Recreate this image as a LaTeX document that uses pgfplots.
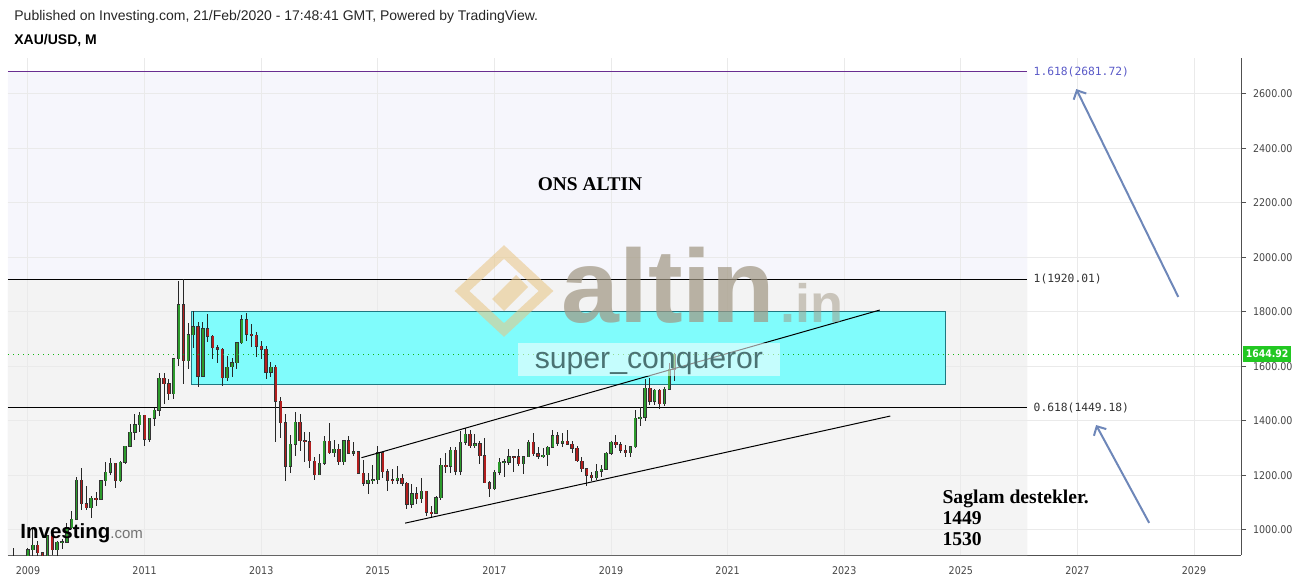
\documentclass[border=0pt]{standalone}
\usepackage{pgfplots}
\pgfplotsset{compat=1.18}
\usepackage{pgfplotstable}
\usepackage{fontspec}
\setmainfont{Liberation Sans}
\newfontfamily\serifb{Liberation Serif}
\newfontfamily\tickfont{DejaVu Sans Condensed}
\newfontfamily\fibfont{DejaVu Sans Mono}
\usetikzlibrary{arrows.meta}

\definecolor{candleG}{RGB}{44,155,44}
\definecolor{candleR}{RGB}{178,30,30}
\definecolor{fibTop}{RGB}{246,246,252}
\definecolor{fibMid}{RGB}{243,243,243}
\definecolor{fibLow}{RGB}{244,244,244}
\definecolor{fibPurple}{RGB}{105,45,145}
\definecolor{fibLabel}{RGB}{90,90,200}
\definecolor{boxCyan}{RGB}{128,252,252}
\definecolor{boxEdge}{RGB}{30,120,130}
\definecolor{arrowBlue}{RGB}{110,135,185}
\definecolor{dotGreen}{RGB}{20,180,20}
\definecolor{tagGreen}{RGB}{34,200,34}
\definecolor{axisGray}{RGB}{80,80,80}
\definecolor{tickGray}{RGB}{70,70,70}
\definecolor{gridc}{RGB}{234,234,234}
\definecolor{wmGray}{RGB}{160,150,130}
\definecolor{wmGold}{RGB}{232,196,130}
\definecolor{scText}{RGB}{75,115,115}

% monthly XAU/USD candles, m = months since Jan 2009
\pgfplotstableread{
m o h l c
-2 719 831 705 816
-1 816 889 752 869
0 869 935 800 927
1 927 1006 889 943
4 883 981 871 979
6 927 960 904 954
7 954 966 930 955
8 955 1025 954 1008
9 1008 1070 1003 1040
10 1040 1195 1040 1182
13 1082 1126 1045 1117
15 1113 1184 1113 1180
16 1180 1249 1161 1212
17 1212 1265 1200 1244
19 1181 1252 1177 1248
20 1248 1307 1241 1307
21 1307 1388 1306 1358
22 1358 1424 1330 1386
23 1386 1431 1361 1421
25 1332 1411 1324 1409
26 1409 1447 1381 1439
27 1439 1576 1417 1556
30 1500 1632 1480 1628
31 1628 1913 1602 1826
33 1620 1758 1592 1716
34 1716 1803 1668 1746
36 1564 1764 1561 1738
41 1558 1640 1547 1598
42 1598 1631 1562 1614
43 1614 1691 1592 1687
44 1687 1790 1684 1772
50 1578 1617 1562 1598
54 1234 1348 1208 1314
55 1314 1434 1271 1396
60 1202 1280 1202 1244
61 1244 1345 1238 1326
63 1284 1331 1268 1296
65 1250 1326 1240 1327
67 1282 1323 1273 1287
70 1172 1209 1131 1182
71 1182 1239 1170 1184
72 1184 1307 1167 1283
76 1183 1233 1169 1190
79 1095 1170 1080 1133
81 1115 1191 1098 1142
84 1061 1123 1061 1118
85 1118 1263 1110 1238
87 1233 1304 1209 1293
89 1215 1362 1200 1321
90 1321 1375 1310 1351
92 1309 1353 1302 1316
96 1151 1220 1145 1211
97 1211 1264 1200 1249
98 1249 1261 1195 1250
99 1249 1296 1240 1268
102 1242 1270 1205 1269
103 1269 1331 1267 1322
106 1271 1299 1264 1275
107 1275 1309 1236 1303
108 1303 1366 1302 1345
110 1318 1356 1303 1325
117 1192 1243 1183 1215
118 1215 1237 1196 1222
119 1222 1285 1221 1282
120 1282 1326 1276 1321
124 1284 1306 1266 1305
125 1305 1439 1301 1409
126 1409 1452 1381 1413
127 1413 1555 1400 1520
129 1472 1517 1459 1513
131 1464 1525 1454 1517
132 1517 1611 1517 1589
133 1589 1649 1548 1645
}\up
\pgfplotstableread{
m o h l c
-3 884 932 681 718
2 943 960 866 916
3 916 918 865 883
5 979 990 908 927
11 1182 1227 1075 1096
12 1096 1161 1074 1082
14 1117 1140 1088 1113
18 1244 1245 1155 1181
24 1421 1423 1309 1332
28 1556 1577 1462 1536
29 1536 1553 1478 1500
32 1826 1921 1534 1620
35 1746 1764 1523 1564
37 1738 1791 1688 1710
38 1710 1714 1627 1669
39 1669 1677 1612 1664
40 1664 1668 1527 1558
45 1772 1796 1692 1719
46 1719 1755 1672 1714
47 1714 1725 1635 1675
48 1675 1694 1626 1663
49 1663 1675 1555 1578
51 1598 1605 1321 1472
52 1472 1487 1338 1393
53 1393 1424 1180 1234
56 1396 1424 1290 1327
57 1327 1361 1251 1323
58 1323 1361 1227 1253
59 1253 1267 1182 1202
62 1326 1392 1277 1284
64 1296 1315 1240 1250
66 1327 1345 1281 1282
68 1287 1288 1206 1208
69 1208 1255 1161 1172
73 1283 1285 1190 1213
74 1213 1224 1142 1183
75 1184 1225 1170 1183
77 1190 1205 1162 1172
78 1172 1175 1077 1095
80 1133 1157 1097 1115
82 1142 1143 1052 1065
83 1065 1088 1046 1061
86 1238 1283 1208 1233
88 1293 1303 1200 1215
91 1351 1367 1300 1309
93 1316 1326 1241 1272
94 1272 1338 1171 1173
95 1173 1180 1122 1151
100 1268 1270 1214 1267
101 1268 1296 1236 1242
104 1322 1357 1271 1280
105 1280 1306 1260 1271
109 1345 1361 1307 1318
111 1325 1366 1310 1315
112 1315 1326 1282 1299
113 1299 1309 1250 1253
114 1253 1266 1211 1224
115 1224 1225 1160 1201
116 1201 1214 1180 1192
121 1321 1347 1302 1313
122 1313 1324 1281 1292
123 1292 1310 1266 1284
128 1520 1557 1459 1472
130 1513 1516 1445 1464
}\down

\pgfplotsset{
  wick/.style={forget plot, no markers, draw opacity=0,
    error bars/.cd, y dir=both, y explicit, error mark=none,
    error bar style={draw=black!85, draw opacity=1, line width=0.5pt, solid}},
  bodyedge/.style={forget plot, no markers, draw opacity=0,
    error bars/.cd, y dir=both, y explicit, error mark=none,
    error bar style={draw=black!80, draw opacity=1, line width=1.7pt, solid}},
  bodyfill/.style={forget plot, no markers, draw opacity=0,
    error bars/.cd, y dir=both, y explicit, error mark=none,
    error bar style={draw=#1, draw opacity=1, line width=0.9pt, solid}},
}

\begin{document}
\begin{tikzpicture}
\path[use as bounding box] (0,0) rectangle (649.5pt,289.5pt);

\node[anchor=base west, inner sep=0, text=black!85] at (7pt,279pt)
  {\fontsize{7}{8}\selectfont Published on Investing.com, 21/Feb/2020 - 17:48:41 GMT, Powered by TradingView.};
\node[anchor=base west, inner sep=0, text=black] at (7pt,267pt)
  {\fontsize{7}{8}\selectfont\bfseries XAU/USD, M};

\begin{axis}[
  at={(4pt,12pt)}, anchor=south west, scale only axis,
  width=616.5pt, height=248.5pt,
  xmin=-4.116, xmax=249.67, ymin=908, ymax=2732,
  axis x line*=bottom, axis y line*=right,
  axis line style={draw=axisGray, line width=0.5pt},
  xtick={0,24,48,72,96,120,144,168,192,216,240},
  xticklabels={2009,2011,2013,2015,2017,2019,2021,2023,2025,2027,2029},
  ytick={1000,1200,1400,1600,1800,2000,2200,2400,2600},
  yticklabels={1000.00,1200.00,1400.00,1600.00,1800.00,2000.00,2200.00,2400.00,2600.00},
  ticklabel style={font=\tickfont\fontsize{5.3}{6}\selectfont, text=tickGray},
  xtick style={draw=none}, ytick style={draw=axisGray, line width=0.5pt},
  tick align=outside, major tick length=2.5pt,
]
% Fibonacci background bands
\addplot[fill=fibTop, draw=none, forget plot]
  coordinates {(-4.116,1920.01) (205.68,1920.01) (205.68,2681.72) (-4.116,2681.72)} \closedcycle;
\addplot[fill=fibMid, draw=none, forget plot]
  coordinates {(-4.116,1449.18) (205.68,1449.18) (205.68,1920.01) (-4.116,1920.01)} \closedcycle;
\addplot[fill=fibLow, draw=none, forget plot]
  coordinates {(-4.116,908) (205.68,908) (205.68,1449.18) (-4.116,1449.18)} \closedcycle;

% grid
\addplot[gridc, line width=0.5pt, forget plot] coordinates {(0,908) (0,2732)};
\addplot[gridc, line width=0.5pt, forget plot] coordinates {(24,908) (24,2732)};
\addplot[gridc, line width=0.5pt, forget plot] coordinates {(48,908) (48,2732)};
\addplot[gridc, line width=0.5pt, forget plot] coordinates {(72,908) (72,2732)};
\addplot[gridc, line width=0.5pt, forget plot] coordinates {(96,908) (96,2732)};
\addplot[gridc, line width=0.5pt, forget plot] coordinates {(120,908) (120,2732)};
\addplot[gridc, line width=0.5pt, forget plot] coordinates {(144,908) (144,2732)};
\addplot[gridc, line width=0.5pt, forget plot] coordinates {(168,908) (168,2732)};
\addplot[gridc, line width=0.5pt, forget plot] coordinates {(192,908) (192,2732)};
\addplot[gridc, line width=0.5pt, forget plot] coordinates {(216,908) (216,2732)};
\addplot[gridc, line width=0.5pt, forget plot] coordinates {(240,908) (240,2732)};
\addplot[gridc, line width=0.5pt, forget plot] coordinates {(-4.116,1000) (249.67,1000)};
\addplot[gridc, line width=0.5pt, forget plot] coordinates {(-4.116,1200) (249.67,1200)};
\addplot[gridc, line width=0.5pt, forget plot] coordinates {(-4.116,1400) (249.67,1400)};
\addplot[gridc, line width=0.5pt, forget plot] coordinates {(-4.116,1600) (249.67,1600)};
\addplot[gridc, line width=0.5pt, forget plot] coordinates {(-4.116,1800) (249.67,1800)};
\addplot[gridc, line width=0.5pt, forget plot] coordinates {(-4.116,2000) (249.67,2000)};
\addplot[gridc, line width=0.5pt, forget plot] coordinates {(-4.116,2200) (249.67,2200)};
\addplot[gridc, line width=0.5pt, forget plot] coordinates {(-4.116,2400) (249.67,2400)};
\addplot[gridc, line width=0.5pt, forget plot] coordinates {(-4.116,2600) (249.67,2600)};

% cyan zone
\addplot[fill=boxCyan, draw=boxEdge, line width=0.5pt, forget plot]
  coordinates {(33.72,1532) (188.76,1532) (188.76,1802) (33.72,1802) (33.72,1532)};

% fib levels
\addplot[fibPurple, line width=0.5pt, forget plot] coordinates {(-4.116,2681.72) (205.68,2681.72)};
\addplot[black, line width=0.5pt, forget plot] coordinates {(-4.116,1920.01) (205.68,1920.01)};
\addplot[black, line width=0.5pt, forget plot] coordinates {(-4.116,1449.18) (205.68,1449.18)};

% candles
\addplot[wick] table[x=m, y expr={(\thisrow{h}+\thisrow{l})/2}, y error expr={(\thisrow{h}-\thisrow{l})/2}] {\up};
\addplot[wick] table[x=m, y expr={(\thisrow{h}+\thisrow{l})/2}, y error expr={(\thisrow{h}-\thisrow{l})/2}] {\down};
\addplot[bodyedge] table[x=m, y expr={(\thisrow{o}+\thisrow{c})/2}, y error expr={max(abs(\thisrow{c}-\thisrow{o})/2,1.5)+1.8}] {\up};
\addplot[bodyedge] table[x=m, y expr={(\thisrow{o}+\thisrow{c})/2}, y error expr={max(abs(\thisrow{c}-\thisrow{o})/2,1.5)+1.8}] {\down};
\addplot[bodyfill=candleG] table[x=m, y expr={(\thisrow{o}+\thisrow{c})/2}, y error expr={max(abs(\thisrow{c}-\thisrow{o})/2,1.5)}] {\up};
\addplot[bodyfill=candleR] table[x=m, y expr={(\thisrow{o}+\thisrow{c})/2}, y error expr={max(abs(\thisrow{c}-\thisrow{o})/2,1.5)}] {\down};

% channel lines
\addplot[black, line width=0.5pt, forget plot] coordinates {(68.64,1265) (175.32,1807)};
\addplot[black, line width=0.5pt, forget plot] coordinates {(77.64,1025) (177.48,1418)};

% last price line
\addplot[dotGreen, dotted, line width=0.5pt, forget plot] coordinates {(-4.116,1644.92) (249.67,1644.92)};

% arrows
\addplot[arrowBlue, line width=1pt, -{Straight Barb[length=3.5pt,width=7pt]}, forget plot]
  coordinates {(236.76,1855) (215.76,2618)};
\addplot[arrowBlue, line width=1pt, -{Straight Barb[length=3.5pt,width=7pt]}, forget plot]
  coordinates {(230.76,1026) (219.84,1385)};

% fib labels
\node[anchor=west, inner sep=0, text=fibLabel, font=\fibfont\fontsize{5.65}{6}\selectfont] at (axis cs:205.68,2681.72) {\hspace{3pt}1.618(2681.72)};
\node[anchor=west, inner sep=0, text=black!80, font=\fibfont\fontsize{5.65}{6}\selectfont] at (axis cs:205.68,1920.01) {\hspace{3pt}1(1920.01)};
\node[anchor=west, inner sep=0, text=black!80, font=\fibfont\fontsize{5.65}{6}\selectfont] at (axis cs:205.68,1449.18) {\hspace{3pt}0.618(1449.18)};

% titles
\node[inner sep=0, font=\serifb\bfseries\fontsize{9.7}{11}\selectfont] at (axis cs:115.68,2270) {ONS ALTIN};
\node[anchor=north west, inner sep=0, align=left, font=\serifb\bfseries\fontsize{9.8}{10.5}\selectfont] at (axis cs:188.16,1150) {Saglam destekler.\\1449\\1530};

% super_conqueror box
\fill[white, opacity=0.55] (axis cs:100.8,1565) rectangle (axis cs:154.8,1686);
\node[inner sep=0, text=scText, font=\fontsize{15.1}{16}\selectfont] at (axis cs:127.8,1612) {super\_conqueror};

\coordinate (tag) at (axis cs:249.67,1644.92);
\end{axis}

% price tag
\node[anchor=west, fill=tagGreen, text=white, inner sep=1.2pt, minimum height=8pt,
  font=\tickfont\bfseries\fontsize{5.2}{6}\selectfont] at ([xshift=1pt]tag) {1644.92};

% altin.in watermark
\begin{scope}[opacity=0.55]
\draw[wmGold, line width=5pt, line join=miter] (231pt,144pt) -- (252pt,163.5pt) -- (273pt,144pt) -- (252pt,124.5pt) -- cycle;
\fill[wmGold] (246pt,140pt) -- (258pt,152pt) -- (264pt,146pt) -- (252pt,134pt) -- cycle;
\end{scope}
\node[anchor=base west, inner sep=0, text=wmGray, opacity=0.7, font=\bfseries\fontsize{52}{53}\selectfont] at (280.5pt,128.5pt) {altin};
\node[anchor=base west, inner sep=0, text=wmGray, opacity=0.5, font=\bfseries\fontsize{27}{28}\selectfont] at (390pt,128.5pt) {.in};

% Investing.com logo
\node[anchor=base west, inner sep=0] at (10pt,20.5pt)
  {\fontsize{10.25}{11}\selectfont\bfseries Investing\mdseries\fontsize{7.5}{8}\selectfont\color{black!55}.com};
\end{tikzpicture}
\end{document}
